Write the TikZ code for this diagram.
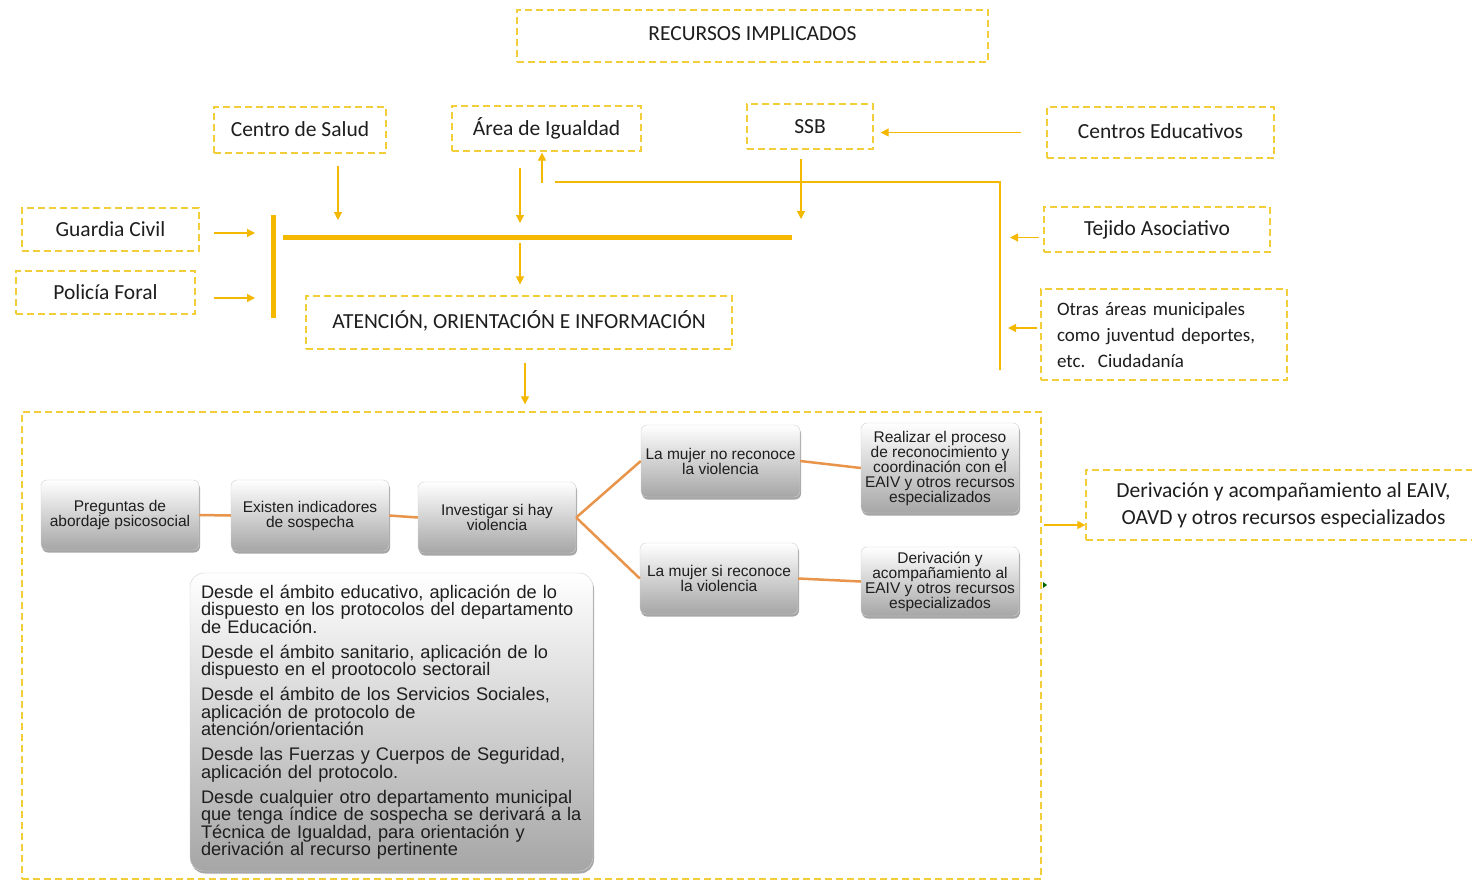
\documentclass[tikz,border=0pt]{standalone}
\usepackage{fontspec}
\setmainfont{Carlito}
\newfontfamily\arialf{Liberation Sans}
\usetikzlibrary{arrows.meta,shadows,calc}
\definecolor{gold}{HTML}{F5B800}
\definecolor{dashy}{HTML}{F2CF3A}
\definecolor{orl}{HTML}{E8944A}
\definecolor{txt}{HTML}{1E1E1E}
\begin{document}
\begin{tikzpicture}[x=1pt,y=-1pt,
  dbox/.style={draw=dashy, dash pattern=on 7pt off 4pt, line width=1.3pt, text=txt,
    font=\fontsize{21.5}{25}\selectfont, align=center, inner sep=0pt},
  gbox/.style={rounded corners=6pt, draw=black!18, top color=white, bottom color=black!35,
    drop shadow={shadow xshift=1pt,shadow yshift=-2.5pt,opacity=0.35,fill=black},
    font=\arialf\fontsize{15.5}{15}\selectfont, align=center, text=txt, inner sep=2pt},
  arr/.style={draw=gold, line width=1.2pt, -{Triangle[length=8pt,width=8pt]}},
  gline/.style={draw=gold, line width=1.2pt},
  bar/.style={draw=gold, line width=5pt},
  oline/.style={draw=orl, line width=2.5pt}]
\useasboundingbox (0,0) rectangle (1472,881);
\fill[white] (0,0) rectangle (1472,881);

% top dashed boxes
\node[dbox, minimum width=471pt, minimum height=52pt] (rec) at (752.5,36) {\raisebox{5pt}{RECURSOS IMPLICADOS}};
\node[dbox, minimum width=172pt, minimum height=46pt] (cs) at (300,130) {\raisebox{2pt}{Centro de Salud}};
\node[dbox, minimum width=189pt, minimum height=45pt] (ai) at (546.5,128.5) {\raisebox{1.5pt}{Área de Igualdad}};
\node[dbox, minimum width=126pt, minimum height=45pt] (ssb) at (810,126.5) {SSB};
\node[dbox, minimum width=227pt, minimum height=51pt] (ce) at (1160.5,132.5) {\raisebox{3.5pt}{Centros Educativos}};
\node[dbox, minimum width=177pt, minimum height=43pt] (gc) at (110.5,229.5) {Guardia Civil};
\node[dbox, minimum width=179pt, minimum height=43pt] (pf) at (105.5,292.5) {Policía Foral};
\node[dbox, minimum width=226pt, minimum height=45pt] (ta) at (1157,229.5) {\raisebox{1.5pt}{Tejido Asociativo}};
\node[dbox, minimum height=91pt, text width=214pt, inner xsep=16pt, align=left,
  font=\fontsize{19}{26}\selectfont] (ot) at (1164,334.5)
  {Otras áreas municipales\\como juventud deportes,\\etc.\ \ Ciudadanía};
\node[dbox, minimum width=426pt, minimum height=53pt] (at) at (519,322.5) {\raisebox{5pt}{ATENCIÓN, ORIENTACIÓN E INFORMACIÓN}};
\node[dbox, minimum width=1019pt, minimum height=467pt] (cont) at (531.5,645.5) {};
\node[dbox, minimum width=395pt, minimum height=70pt, font=\fontsize{21.5}{27}\selectfont] (der) at (1283.5,505)
  {Derivación y acompañamiento al EAIV,\\OAVD y otros recursos especializados};

% bars
\coordinate (vbarT) at (273,215);
\coordinate (vbarB) at (273,318);
\coordinate (hbarL) at (283,237);
\coordinate (hbarR) at (792,237);
\draw[bar] (vbarT) -- (vbarB);
\draw[bar] (hbarL) -- (hbarR);

% arrows into bars
\draw[arr, shorten <=14pt, shorten >=18pt] ([yshift=-3.5pt]gc.east) -- ([yshift=-3.5pt]gc.east -| vbarT);
\draw[arr, shorten <=18pt, shorten >=18pt] ([yshift=-5.5pt]pf.east) -- ([yshift=-5.5pt]pf.east -| vbarT);
\draw[arr, shorten <=12pt, shorten >=17pt] ([xshift=38pt]cs.south) -- ([xshift=38pt]cs.south |- hbarL);
\draw[arr, shorten <=16pt, shorten >=14pt] ([xshift=-26.5pt]ai.south) -- ([xshift=-26.5pt]ai.south |- hbarL);
\draw[arr, shorten <=9pt, shorten >=18pt] ([xshift=-9pt]ssb.south) -- ([xshift=-9pt]ssb.south |- hbarL);
\draw[arr, shorten <=6pt, shorten >=11pt] ([xshift=1pt]at.north |- hbarL) -- ([xshift=1pt]at.north);

% return line to Area de Igualdad
\coordinate (rL) at (555,182);
\coordinate (rC) at (1000,182);
\coordinate (rB) at (1000,370);
\coordinate (aiup) at (542,183);
\draw[gline] (rB) -- (rC) -- (rL);
\draw[arr, shorten >=1pt] (aiup) -- ([xshift=-4.5pt]ai.south);

% right side arrows
\draw[arr, shorten <=25pt, shorten >=7pt] (ce.west) -- (ce.west -| ssb.east);
\draw[arr, shorten <=4pt, shorten >=10pt] ([yshift=-8pt]ta.west) -- ([yshift=-8pt]ta.west -| rC);
\draw[arr, shorten <=3pt, shorten >=8pt] ([yshift=6.5pt]ot.west) -- ([yshift=6.5pt]ot.west -| rC);

% to container and out
\draw[arr, shorten <=13pt, shorten >=7pt] ([xshift=6pt]at.south) -- ([xshift=6pt]at.south |- cont.north);
\draw[arr, shorten <=2pt] ([yshift=-20pt]der.west -| cont.east) -- ([yshift=-20pt]der.west);
\fill[green!40!black] (1043,582) -- (1047,585) -- (1043,588) -- cycle;

% grey process boxes
\node[gbox, minimum width=158pt, minimum height=70pt] (p1) at (120,515) {Preguntas de\\abordaje psicosocial};
\node[gbox, minimum width=158pt, minimum height=71pt] (p2) at (310,515.5) {Existen indicadores\\de sospecha};
\node[gbox, minimum width=158pt, minimum height=71pt] (p3) at (497,517.5) {Investigar si hay\\violencia};
\node[gbox, minimum width=159pt, minimum height=72pt] (n1) at (720.5,461) {La mujer no reconoce\\la violencia};
\node[gbox, minimum width=158pt, minimum height=90pt] (r1) at (940,468) {Realizar el proceso\\de reconocimiento y\\coordinación con el\\EAIV y otros recursos\\especializados};
\node[gbox, minimum width=158pt, minimum height=71pt] (s1) at (719,578.5) {La mujer si reconoce\\la violencia};
\node[gbox, minimum width=158pt, minimum height=69pt] (d1) at (940,581.5) {Derivación y\\acompañamiento al\\EAIV y otros recursos\\especializados};
\node[gbox, rounded corners=14pt, minimum width=403pt, minimum height=298pt, text width=381pt, inner xsep=11pt,
  align=left, font=\arialf\fontsize{18.2}{17.5}\selectfont] (big) at (391.5,722)
  {Desde el ámbito educativo, aplicación de lo\\dispuesto en los protocolos del departamento\\de Educación.\\[7.5pt]
   Desde el ámbito sanitario, aplicación de lo\\dispuesto en el prootocolo sectorail\\[7.5pt]
   Desde el ámbito de los Servicios Sociales,\\aplicación de protocolo de\\atención/orientación\\[7.5pt]
   Desde las Fuerzas y Cuerpos de Seguridad,\\aplicación del protocolo.\\[7.5pt]
   Desde cualquier otro departamento municipal\\que tenga índice de sospecha se derivará a la\\Técnica de Igualdad, para orientación y\\derivación al recurso pertinente};

% orange connectors
\draw[oline] (p1.east) -- (p2.west);
\draw[oline] (p2.east) -- (p3.west);
\draw[oline] (p3.east) -- (n1.west);
\draw[oline] (p3.east) -- (s1.west);
\draw[oline] (n1.east) -- (r1.west);
\draw[oline] (s1.east) -- (d1.west);
\end{tikzpicture}
\end{document}
